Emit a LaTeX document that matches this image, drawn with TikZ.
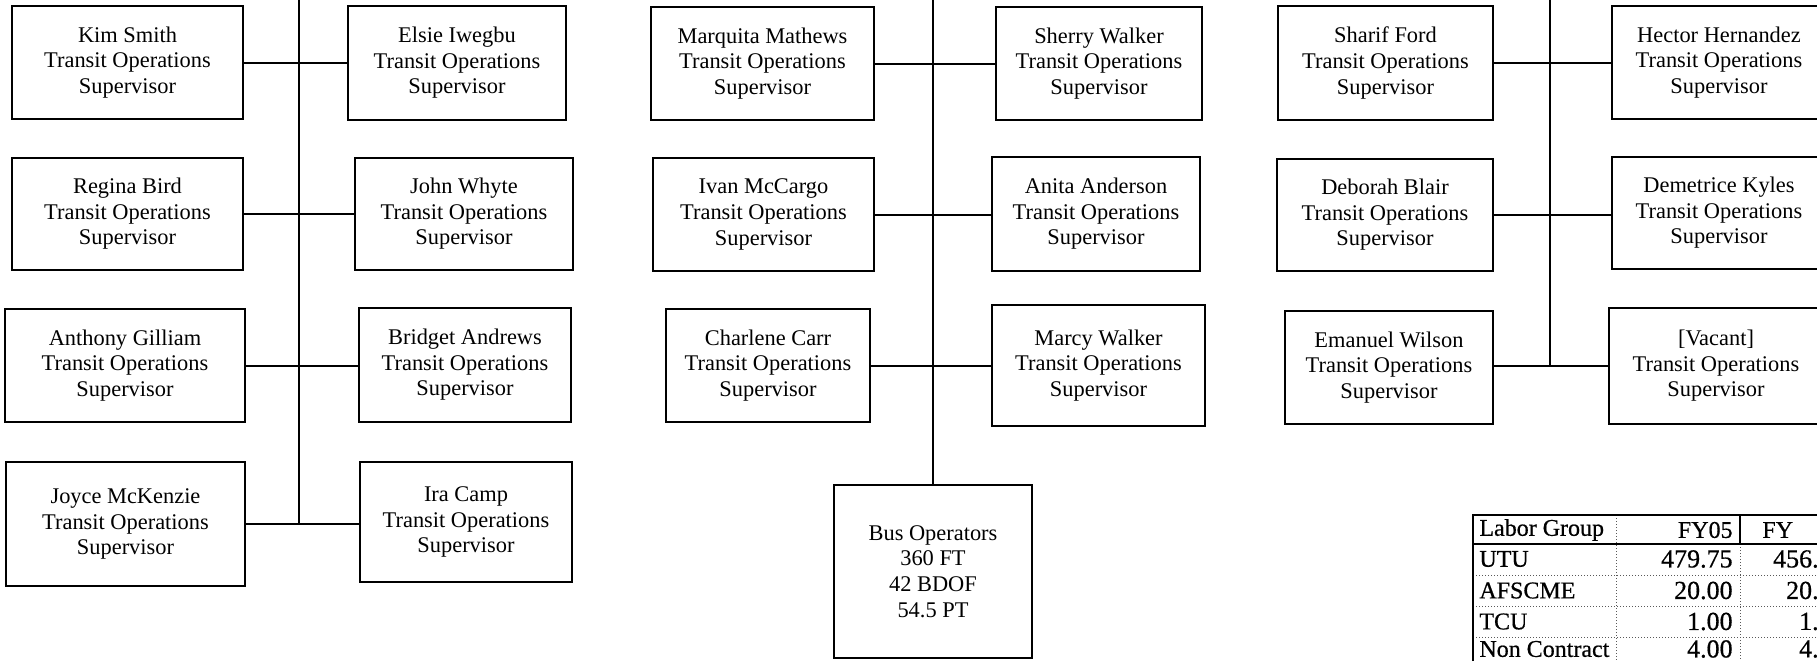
\documentclass[tikz,border=0pt]{standalone}
\usepackage{fontspec}
\setmainfont{Liberation Serif}
\newfontfamily\tablefont[FakeBold=0.6]{Liberation Serif}
\begin{document}
\begin{tikzpicture}[x=0.5pt,y=-0.5pt,
  box/.style={draw,line width=1.15pt,align=center,inner sep=0pt,font=\fontsize{11.2}{12.8}\selectfont},
  link/.style={line width=1pt},
  cell/.style={inner sep=0pt,font=\tablefont\fontsize{12}{13}\selectfont},
  numcell/.style={inner sep=0pt,font=\tablefont\fontsize{13}{14}\selectfont},
  gridline/.style={line width=0.5pt,densely dotted,black!65},
  framethick/.style={line width=1.4pt},
  framethin/.style={line width=0.6pt}]
\useasboundingbox (0,0) rectangle (1817,661);
\clip (0,0) rectangle (1817,661);
\fill[white] (0,0) rectangle (1817,661);

% ---------- left group ----------
\node[box,minimum width=115.5pt,minimum height=56.5pt] (kim) at (127.5,62.5) {Kim Smith\\Transit Operations\\Supervisor};
\node[box,minimum width=109pt,minimum height=57pt] (elsie) at (457,63) {Elsie Iwegbu\\Transit Operations\\Supervisor};
\node[box,minimum width=115.5pt,minimum height=56pt] (regina) at (127.5,214) {Regina Bird\\Transit Operations\\Supervisor};
\node[box,minimum width=109pt,minimum height=56pt] (john) at (464,214) {John Whyte\\Transit Operations\\Supervisor};
\node[box,minimum width=120pt,minimum height=56.5pt] (anthony) at (125,365.5) {Anthony Gilliam\\Transit Operations\\Supervisor};
\node[box,minimum width=106pt,minimum height=57pt] (bridget) at (465,365) {Bridget Andrews\\Transit Operations\\Supervisor};
\node[box,minimum width=119.5pt,minimum height=62pt] (joyce) at (125.5,524) {Joyce McKenzie\\Transit Operations\\Supervisor};
\node[box,minimum width=106pt,minimum height=60pt] (ira) at (466,522) {Ira Camp\\Transit Operations\\Supervisor};
\coordinate (ltop) at (299,0);

\draw[link] (kim.east) -- (kim.east -| elsie.west);
\draw[link] (regina.east) -- (regina.east -| john.west);
\draw[link] (anthony.east) -- (anthony.east -| bridget.west);
\draw[link] (joyce.east) -- (joyce.east -| ira.west);
\draw[link] (ltop) -- (ltop |- joyce.east);

% ---------- middle group ----------
\node[box,minimum width=111.5pt,minimum height=56.5pt] (marquita) at (762.5,63.5) {Marquita Mathews\\Transit Operations\\Supervisor};
\node[box,minimum width=103pt,minimum height=56.5pt] (sherry) at (1099,63.5) {Sherry Walker\\Transit Operations\\Supervisor};
\node[box,minimum width=110.5pt,minimum height=56.5pt] (ivan) at (763.5,214.5) {Ivan McCargo\\Transit Operations\\Supervisor};
\node[box,minimum width=104pt,minimum height=57pt] (anita) at (1096,214) {Anita Anderson\\Transit Operations\\Supervisor};
\node[box,minimum width=102pt,minimum height=56.5pt] (charlene) at (768,365.5) {Charlene Carr\\Transit Operations\\Supervisor};
\node[box,minimum width=106.5pt,minimum height=60.5pt] (marcy) at (1098.5,365.5) {Marcy Walker\\Transit Operations\\Supervisor};
\node[box,minimum width=99pt,minimum height=86.5pt] (bus) at (933,571.5) {Bus Operators\\360 FT\\42 BDOF\\54.5 PT};
\coordinate (mtop) at (933,0);

\draw[link] (marquita.east) -- (marquita.east -| sherry.west);
\draw[link] (ivan.east) -- (ivan.east -| anita.west);
\draw[link] (charlene.east) -- (charlene.east -| marcy.west);
\draw[link] (mtop) -- (bus.north);

% ---------- right group ----------
\node[box,minimum width=107.5pt,minimum height=57pt] (sharif) at (1385.5,63) {Sharif Ford\\Transit Operations\\Supervisor};
\node[box,minimum width=107pt,minimum height=56.5pt] (hector) at (1719,62.5) {Hector Hernandez\\Transit Operations\\Supervisor};
\node[box,minimum width=108pt,minimum height=56pt] (deborah) at (1385,215) {Deborah Blair\\Transit Operations\\Supervisor};
\node[box,minimum width=107pt,minimum height=56pt] (demetrice) at (1719,213) {Demetrice Kyles\\Transit Operations\\Supervisor};
\node[box,minimum width=104pt,minimum height=56.5pt] (emanuel) at (1389,367.5) {Emanuel Wilson\\Transit Operations\\Supervisor};
\node[box,minimum width=107pt,minimum height=58pt] (vacant) at (1716,366) {[Vacant]\\Transit Operations\\Supervisor};
\coordinate (rtop) at (1550,0);

\draw[link] (sharif.east) -- (sharif.east -| hector.west);
\draw[link] (deborah.east) -- (deborah.east -| demetrice.west);
\draw[link] (emanuel.east |- vacant.west) -- (vacant.west);
\draw[link] (rtop) -- (rtop |- vacant.west);

% ---------- table ----------
\draw[gridline] (1473,575) -- (1817,575);
\draw[gridline] (1473,606) -- (1817,606);
\draw[gridline] (1473,637) -- (1817,637);
\draw[gridline] (1616,515) -- (1616,661);
\draw[gridline] (1740,544) -- (1740,661);
\draw[framethin] (1740,515) -- (1817,515);
\draw[framethin] (1616,544) -- (1817,544);
\draw[framethick] (1473,661) -- (1473,515) -- (1740,515) -- (1740,544);
\draw[framethick] (1473,544) -- (1616,544);

\node[cell,anchor=west] (hlabor) at (1479,530) {Labor Group};
\node[cell,anchor=east] (hfy05) at (1733,530) {FY05};
\node[cell,anchor=west] (hfy06) at (1762,530) {FY};
\node[cell,anchor=west] (rutu) at (1479,559) {UTU};
\node[cell,anchor=west] (rafs) at (1479,590.5) {AFSCME};
\node[cell,anchor=west] (rtcu) at (1479,621.5) {TCU};
\node[cell,anchor=west] (rnon) at (1479,649) {Non Contract};
\node[numcell,anchor=east] (v1) at (1733,559) {479.75};
\node[numcell,anchor=east] (v2) at (1733,590.5) {20.00};
\node[numcell,anchor=east] (v3) at (1733,621.5) {1.00};
\node[numcell,anchor=east] (v4) at (1733,649) {4.00};
\node[numcell,anchor=east] (w1) at (1819,559) {456.};
\node[numcell,anchor=east] (w2) at (1819,590.5) {20.};
\node[numcell,anchor=east] (w3) at (1819,621.5) {1.};
\node[numcell,anchor=east] (w4) at (1819,649) {4.};
\end{tikzpicture}
\end{document}
